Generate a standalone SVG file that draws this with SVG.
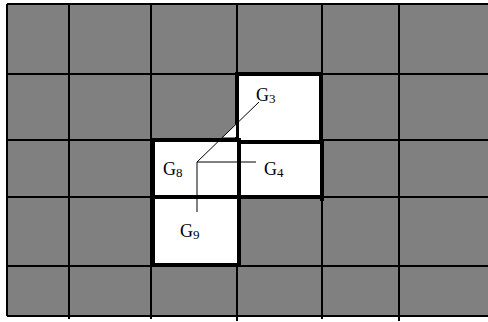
<svg xmlns="http://www.w3.org/2000/svg" width="488" height="322" viewBox="0 0 488 322">
<style>
.grid{stroke:#000;stroke-width:2;fill:none}
.thick{stroke:#000;stroke-width:4;fill:none;stroke-linecap:square}
.conn{stroke:#000;stroke-width:1;fill:none}
.lbl{font-family:"Liberation Serif","Times New Roman",serif;font-size:18px;fill:#000}
.sub{font-size:13px}
</style>
<rect x="0" y="0" width="488" height="322" fill="#fff"/>
<rect x="7" y="4" width="481" height="312" fill="#808080"/>
<g id="grid" class="grid">
<path d="M7,4V316M69,4V319M151,4V319M237,4V321M322,4V319M399,4V321"/>
<path d="M7,4H488M7,74H488M7,140H488M7,197H488M7,266H488M7,316H488"/>
</g>
<g id="G3"><rect x="237" y="74" width="85" height="67" fill="#fff"/><path class="thick" d="M237,74H321V141M237,74V141"/><text class="lbl" x="256" y="101">G<tspan class="sub" dy="2">3</tspan></text></g>
<g id="G4"><rect x="239" y="142" width="84" height="56" fill="#fff"/><path class="thick" d="M237,142H322V199"/><text class="lbl" x="264" y="175">G<tspan class="sub" dy="2">4</tspan></text></g>
<g id="G8"><rect x="153" y="140" width="86" height="57" fill="#fff"/><path class="thick" d="M153,140H237M153,140V197"/><text class="lbl" x="163" y="175">G<tspan class="sub" dy="2">8</tspan></text></g>
<g id="G9"><rect x="153" y="197" width="86" height="69" fill="#fff"/><path class="thick" d="M153,197V265H238M153,197H322M239,140V265"/><path class="conn" d="M238,266.5H248"/><text class="lbl" x="180" y="237">G<tspan class="sub" dy="2">9</tspan></text></g>
<polygon points="236,124 223,137 236,137" fill="#fff"/>
<g id="connectors" class="conn">
<path d="M259,102L197,162"/>
<path d="M197,162H256"/>
<path d="M197,162V212"/>
</g>
</svg>
